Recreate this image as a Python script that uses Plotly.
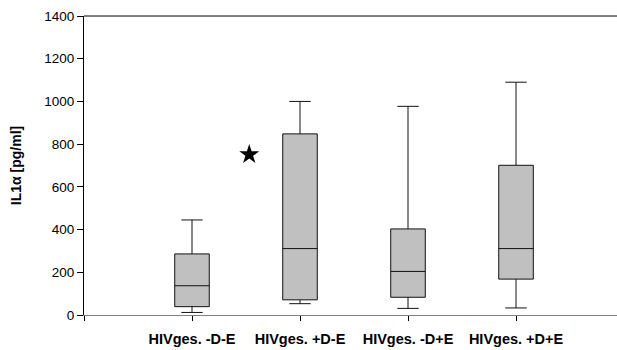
import plotly.graph_objects as go

# Group labels and precomputed box statistics (pg/ml)
groups = ["HIVges. -D-E", "HIVges. +D-E", "HIVges. -D+E", "HIVges. +D+E"]
positions = [1, 2, 3, 4]
lower_whisker = [12, 53, 31, 33]
q1 = [39, 71, 83, 168]
median = [137, 311, 204, 311]
q3 = [286, 848, 403, 701]
upper_whisker = [445, 1000, 977, 1090]

# Significance marker
star_x = [1.53]
star_y = [751]

fig = go.Figure()

for i in range(len(groups)):
    fig.add_trace(go.Box(
        x=[positions[i]],
        q1=[q1[i]],
        median=[median[i]],
        q3=[q3[i]],
        lowerfence=[lower_whisker[i]],
        upperfence=[upper_whisker[i]],
        width=0.32,
        whiskerwidth=0.62,
        fillcolor="#c0c0c0",
        line=dict(color="#111111", width=1),
        boxpoints=False,
        showlegend=False,
        hoverinfo="skip",
    ))

fig.add_trace(go.Scatter(
    x=star_x, y=star_y, mode="markers",
    marker=dict(symbol="star", size=15, color="black", line=dict(width=0)),
    showlegend=False, hoverinfo="skip",
))

font_family = "Liberation Sans, Arial, sans-serif"

fig.update_layout(
    width=617, height=350,
    margin=dict(l=84, r=0, t=16, b=35),
    paper_bgcolor="white",
    plot_bgcolor="white",
    font=dict(family=font_family, color="black"),
    xaxis=dict(
        range=[0, 4.935],
        tickmode="array",
        tickvals=[0] + positions,
        ticktext=[""] + [f"<b>{g}</b>" for g in groups],
        tickfont=dict(size=14.5, family=font_family),
        ticklabelstandoff=6,
        ticks="outside", ticklen=5, tickcolor="black", tickwidth=1,
        showline=True, linecolor="#808080", linewidth=1,
        showgrid=False, zeroline=False,
        fixedrange=True,
    ),
    yaxis=dict(
        range=[0, 1400],
        tickvals=[0, 200, 400, 600, 800, 1000, 1200, 1400],
        tickfont=dict(size=13.5, family=font_family),
        ticks="outside", ticklen=6, tickcolor="black", tickwidth=1,
        showline=True, linecolor="black", linewidth=1,
        showgrid=False, zeroline=False,
        title=dict(text="<b>IL1α [pg/ml]</b>", font=dict(size=14, family=font_family), standoff=19),
        fixedrange=True,
    ),
    shapes=[
        dict(type="line", xref="paper", yref="paper", x0=0, x1=1, y0=1, y1=1,
             line=dict(color="black", width=1)),
    ],
)

fig.write_html("out.html")
